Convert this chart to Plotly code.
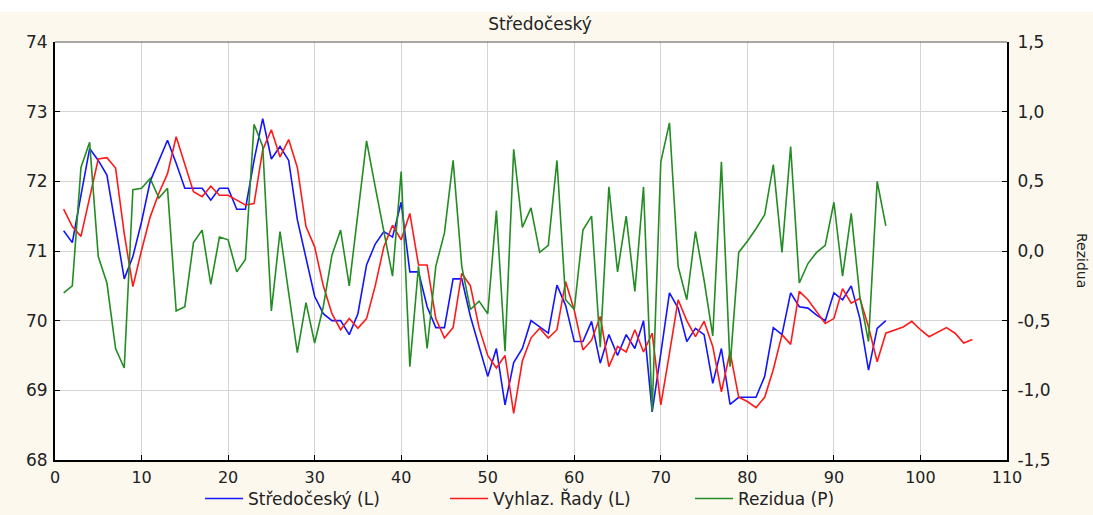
import plotly.graph_objects as go

# ---------------- data ----------------
t_obs = list(range(1, 97))
t_smooth = list(range(1, 107))

stredocesky = [
    71.29, 71.12, 71.8, 72.47, 72.3, 72.09, 71.35, 70.6, 70.92, 71.42,
    72.0, 72.3, 72.59, 72.26, 71.9, 71.9, 71.9, 71.73, 71.9, 71.9,
    71.6, 71.6, 72.3, 72.9, 72.32, 72.5, 72.3, 71.45, 70.92, 70.35,
    70.1, 70.0, 70.0, 69.8, 70.1, 70.8, 71.1, 71.28, 71.2, 71.7,
    70.7, 70.7, 70.2, 69.9, 69.9, 70.6, 70.6, 70.06, 69.63, 69.2,
    69.6, 68.79, 69.4, 69.6, 70.0, 69.91, 69.82, 70.51, 70.22, 69.7,
    69.7, 69.99, 69.39, 69.8, 69.5, 69.8, 69.6, 70.0, 68.69, 69.53,
    70.4, 70.18, 69.7, 69.89, 69.8, 69.1, 69.6, 68.8, 68.9, 68.9,
    68.9, 69.2, 69.9, 69.8, 70.4, 70.2, 70.18, 70.08, 70.0, 70.4,
    70.3, 70.5, 70.03, 69.29, 69.89, 70.0,
]

vyhlaz = [
    71.6, 71.35, 71.21, 71.75, 72.32, 72.34, 72.19, 71.25, 70.49, 71.01,
    71.49, 71.83, 72.11, 72.64, 72.26, 71.85, 71.78, 71.93, 71.8, 71.8,
    71.73, 71.66, 71.68, 72.45, 72.74, 72.35, 72.6, 72.2, 71.35, 71.06,
    70.5, 70.1, 69.87, 70.03, 69.89, 70.03, 70.5, 71.06, 71.37, 71.16,
    71.54, 70.8, 70.8, 70.03, 69.75, 69.9, 70.68, 70.5, 69.9, 69.5,
    69.32, 69.5, 68.67, 69.42, 69.75, 69.89, 69.75, 69.87, 70.56, 70.15,
    69.58, 69.72, 70.06, 69.34, 69.63, 69.55, 69.87, 69.55, 69.82, 68.79,
    69.53, 70.3, 70.0, 69.77, 69.99, 69.63, 68.98, 69.55, 68.9, 68.84,
    68.75, 68.9, 69.3, 69.8, 69.66, 70.42, 70.3, 70.13, 69.96, 70.03,
    70.46, 70.25, 70.32, 69.91, 69.41, 69.82, 69.87, 69.91, 69.99, 69.87,
    69.77, 69.84, 69.9, 69.82, 69.68, 69.73,
]

rezidua = [
    -0.3, -0.25, 0.6, 0.78, -0.04, -0.23, -0.7, -0.84, 0.44, 0.45,
    0.52, 0.38, 0.45, -0.43, -0.4, 0.06, 0.15, -0.24, 0.1, 0.08,
    -0.15, -0.06, 0.91, 0.75, -0.43, 0.14, -0.3, -0.73, -0.37, -0.66,
    -0.4, -0.03, 0.15, -0.25, 0.27, 0.79, 0.46, 0.15, -0.18, 0.57,
    -0.83, -0.11, -0.7, -0.11, 0.13, 0.65, -0.11, -0.42, -0.36, -0.45,
    0.29, -0.72, 0.73, 0.17, 0.31, -0.01, 0.04, 0.65, -0.35, -0.42,
    0.15, 0.25, -0.69, 0.46, -0.15, 0.25, -0.29, 0.46, -1.15, 0.64,
    0.92, -0.11, -0.35, 0.14, -0.21, -0.61, 0.64, -0.83, -0.01, 0.07,
    0.16, 0.26, 0.62, -0.01, 0.75, -0.23, -0.09, -0.01, 0.04, 0.35,
    -0.18, 0.27, -0.33, -0.65, 0.5, 0.18,
]

x_ticks = [0, 10, 20, 30, 40, 50, 60, 70, 80, 90, 100, 110]
y_left_ticks = [68, 69, 70, 71, 72, 73, 74]
y_right_ticks = [-1.5, -1.0, -0.5, 0.0, 0.5, 1.0, 1.5]
y_right_labels = ["-1,5", "-1,0", "-0,5", "0,0", "0,5", "1,0", "1,5"]

title_text = "Středočeský"
names = ["Středočeský (L)", "Vyhlaz. Řady (L)", "Rezidua (P)"]
right_title = "Rezidua"

# ---------------- figure ----------------
FONT = "DejaVu Sans"
TXT = "#222222"
W, H = 1093, 515
ML, MR, MT, MB = 55, 86, 42, 55
PW, PH = W - ML - MR, H - MT - MB

fig = go.Figure()
fig.add_trace(go.Scatter(x=t_obs, y=stredocesky, mode="lines", name=names[0],
                         line=dict(color="#1414ff", width=1.6)))
fig.add_trace(go.Scatter(x=t_smooth, y=vyhlaz, mode="lines", name=names[1],
                         line=dict(color="#ff1a1a", width=1.6)))
fig.add_trace(go.Scatter(x=t_obs, y=rezidua, mode="lines", name=names[2],
                         yaxis="y2", line=dict(color="#238c23", width=1.6)))

axis_common = dict(showline=True, linecolor="#000000", linewidth=2,
                   ticks="inside", ticklen=5, tickcolor="#000000",
                   zeroline=False, automargin=False)

fig.update_layout(
    width=W, height=H,
    margin=dict(l=ML, r=MR, t=MT, b=MB, autoexpand=False),
    paper_bgcolor="#fcf8ee",
    plot_bgcolor="#ffffff",
    font=dict(family=FONT, size=16, color=TXT),
    showlegend=True,
    title=dict(text=title_text, x=540 / W, xanchor="center",
               y=1 - 24 / H, yanchor="middle",
               font=dict(family=FONT, size=17, color=TXT)),
    xaxis=dict(range=[0, 110], tickvals=x_ticks, showgrid=True,
               gridcolor="#d4d4d4", gridwidth=1, ticklabelstandoff=2,
               tickfont=dict(family=FONT, size=16, color=TXT),
               **axis_common),
    yaxis=dict(range=[68, 74], tickvals=y_left_ticks, showgrid=True,
               gridcolor="#d4d4d4", gridwidth=1, ticklabelstandoff=2,
               tickfont=dict(family=FONT, size=17, color=TXT),
               **axis_common),
    yaxis2=dict(range=[-1.5, 1.5], tickvals=y_right_ticks, ticktext=y_right_labels,
                overlaying="y", side="right", showgrid=False, ticklabelstandoff=5,
                tickfont=dict(family=FONT, size=17, color=TXT),
                **axis_common),
    legend=dict(orientation="h", x=(200 - ML) / PW, xanchor="left",
                y=(460 - 499) / PH, yanchor="middle",
                bgcolor="rgba(0,0,0,0)", entrywidth=192, itemwidth=38,
                font=dict(family=FONT, size=17, color=TXT)),
    annotations=[dict(text=right_title, textangle=90, showarrow=False,
                      xref="paper", yref="paper",
                      x=(1082 - ML) / PW, y=(460 - 260) / PH,
                      xanchor="center", yanchor="middle",
                      font=dict(family=FONT, size=14, color=TXT))],
    shapes=[
        # top frame line
        dict(type="line", xref="paper", yref="paper", x0=0, x1=1, y0=1, y1=1,
             line=dict(color="#555555", width=1.2)),
        # white strip at very top of the image
        dict(type="rect", xref="paper", yref="paper", layer="below",
             x0=-ML / PW - 0.01, x1=(W - ML) / PW + 0.01,
             y0=(H - MB - 12) / PH, y1=(H - MB) / PH + 0.01,
             line=dict(width=0), fillcolor="#ffffff"),
    ],
)

fig.write_html("out.html")
